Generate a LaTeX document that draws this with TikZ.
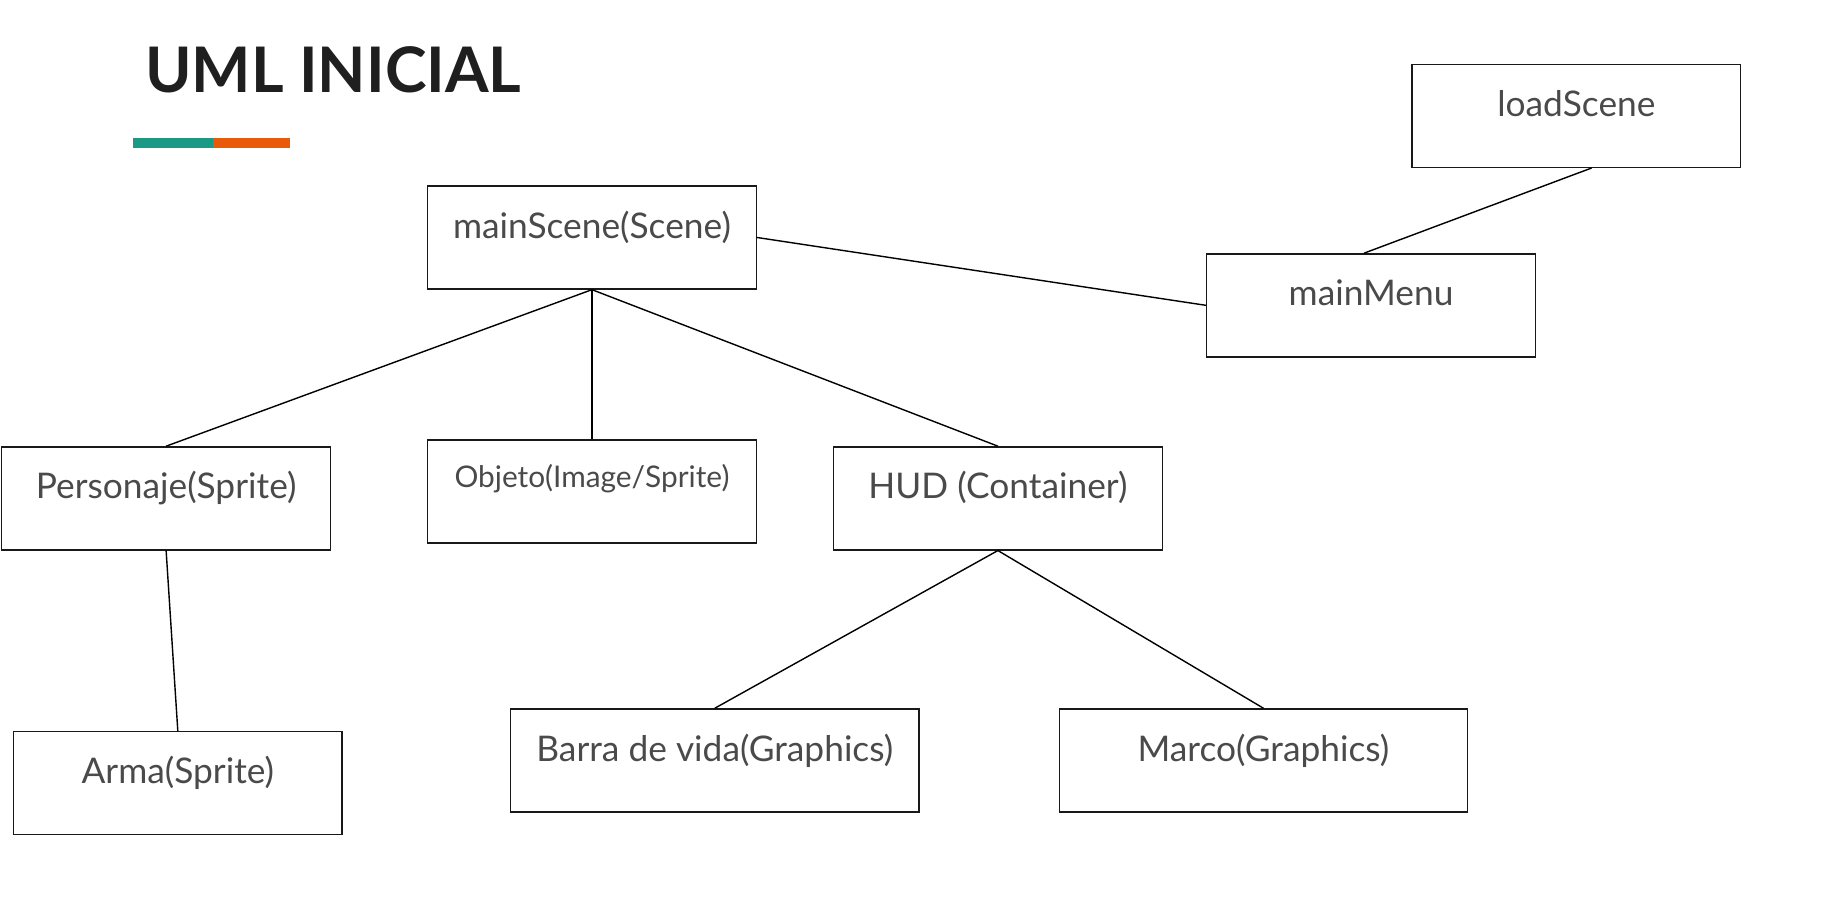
\documentclass[tikz,border=0pt]{standalone}
\usepackage{fontspec}
\setmainfont{Lato}
\usetikzlibrary{positioning}
\definecolor{textogris}{HTML}{4A4A4A}
\definecolor{tituloneg}{HTML}{1F1F1F}
\definecolor{verdebarra}{HTML}{1A9985}
\definecolor{naranjabarra}{HTML}{E85A0A}
\begin{document}
\begin{tikzpicture}[x=1pt,y=-1pt,
    clase/.style={draw=black!90,line width=1.2pt,rectangle,minimum width=281pt,minimum height=88pt,
        inner sep=0pt,text=textogris,font=\fontsize{30.2}{36}\selectfont,text height=23pt,text depth=22pt},
    claseancha/.style={clase,minimum width=349pt},
    clasechica/.style={clase,font=\fontsize{25.5}{30}\selectfont,text height=19pt,text depth=25pt},
    enlace/.style={draw=black,line width=1.2pt}]
    \useasboundingbox (0,0) rectangle (1566,779.6);

    \node[anchor=base west,inner sep=0pt,text=tituloneg,font=\fontsize{53.7}{62}\bfseries] (titulo) at (124,79) {UML INICIAL};
    \fill[verdebarra] (114,117.7) rectangle (181.7,126.2);
    \fill[naranjabarra] (181.7,117.7) rectangle (247.5,126.2);

    \node[clase] (mainScene) at (506,203) {mainScene(Scene)};
    \node[clase] (loadScene) at (1347.5,99) {loadScene};
    \node[clase] (mainMenu) at (1172,261) {mainMenu};
    \node[clase] (personaje) at (142,426) {Personaje(Sprite)};
    \node[clasechica] (objeto) at (506,420) {Objeto(Image/Sprite)};
    \node[clase] (hud) at (853,426) {HUD (Container)};
    \node[clase] (arma) at (152,669.5) {Arma(Sprite)};
    \node[claseancha] (barra) at (611,650) {Barra de vida(Graphics)};
    \node[claseancha] (marco) at (1080,650) {Marco(Graphics)};

    \draw[enlace] (mainScene.south) -- (personaje.north);
    \draw[enlace] (mainScene.south) -- (objeto.north);
    \draw[enlace] (mainScene.south) -- (hud.north);
    \draw[enlace] (mainScene.east) -- (mainMenu.west);
    \draw[enlace] ([xshift=13pt]loadScene.south) -- ([xshift=-6pt]mainMenu.north);
    \draw[enlace] (personaje.south) -- (arma.north);
    \draw[enlace] (hud.south) -- (barra.north);
    \draw[enlace] (hud.south) -- (marco.north);
\end{tikzpicture}
\end{document}
